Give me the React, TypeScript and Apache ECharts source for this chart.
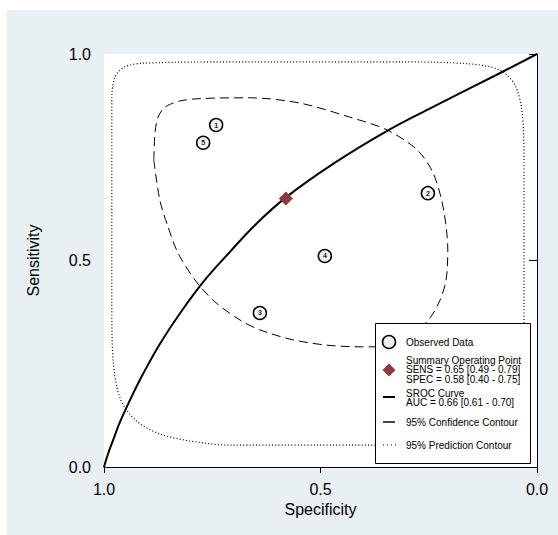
import React, { useEffect, useRef } from "react";
import * as echarts from "echarts";

// Study data (specificity, sensitivity)
const studyIds = ["1", "2", "3", "4", "5"];
const studySpec = [0.741, 0.252, 0.64, 0.49, 0.771];
const studySens = [0.828, 0.663, 0.373, 0.511, 0.785];

// Summary operating point
const summarySpec = 0.58;
const summarySens = 0.65;

// SROC curve
const srocSpec = [1.0, 0.991, 0.979, 0.963, 0.94, 0.91, 0.871, 0.824, 0.767, 0.709, 0.651, 0.582, 0.471, 0.346, 0.24, 0.085, 0.0];
const srocSens = [0.0, 0.031, 0.065, 0.109, 0.162, 0.225, 0.298, 0.373, 0.453, 0.521, 0.586, 0.651, 0.734, 0.814, 0.872, 0.954, 1.0];

// 95% confidence contour
const confSpec = [0.885, 0.882, 0.874, 0.858, 0.826, 0.778, 0.663, 0.547, 0.432, 0.346, 0.277, 0.24, 0.217, 0.206, 0.21, 0.224, 0.247, 0.282, 0.328, 0.374, 0.409, 0.485, 0.564, 0.64, 0.686, 0.744, 0.79, 0.829, 0.852, 0.871, 0.885];
const confSens = [0.743, 0.812, 0.85, 0.872, 0.886, 0.892, 0.894, 0.881, 0.847, 0.816, 0.768, 0.712, 0.63, 0.525, 0.453, 0.404, 0.361, 0.324, 0.3, 0.291, 0.291, 0.295, 0.308, 0.332, 0.356, 0.4, 0.453, 0.518, 0.581, 0.646, 0.743];

// 95% prediction contour
const predSpec = [0.982, 0.975, 0.952, 0.905, 0.663, 0.316, 0.155, 0.085, 0.051, 0.035, 0.03, 0.03, 0.032, 0.044, 0.074, 0.132, 0.432, 0.709, 0.801, 0.871, 0.928, 0.963, 0.979, 0.982, 0.982, 0.982];
const predSens = [0.901, 0.944, 0.969, 0.978, 0.981, 0.981, 0.976, 0.961, 0.925, 0.864, 0.743, 0.404, 0.162, 0.09, 0.061, 0.053, 0.053, 0.053, 0.063, 0.08, 0.114, 0.167, 0.259, 0.404, 0.768, 0.901];

const axisTicks = [0, 0.5, 1];

const legendLines = {
  observed: "Observed Data",
  summary: ["Summary Operating Point", "SENS = 0.65 [0.49 - 0.79]", "SPEC = 0.58 [0.40 - 0.75]"],
  sroc: ["SROC Curve", "AUC = 0.66 [0.61 - 0.70]"],
  conf: "95% Confidence Contour",
  pred: "95% Prediction Contour",
};

const FONT = '"Liberation Sans", Arial, sans-serif';
const zip = (a: number[], b: number[]) => a.map((v, i) => [v, b[i]]);

export default function App() {
  const ref = useRef<HTMLDivElement>(null);
  useEffect(() => {
    if (!ref.current) return;
    const chart = echarts.init(ref.current, undefined, { renderer: "svg" });
    const lf = `10px ${FONT}`;
    const txt = (text: string, x: number, y: number) => ({
      type: "text",
      z: 101,
      style: { text, x, y, font: lf, fill: "#000", verticalAlign: "middle" },
    });
    chart.setOption({
      animation: false,
      backgroundColor: "#ffffff",
      textStyle: { fontFamily: FONT },
      grid: {
        left: 104,
        top: 54,
        right: 21,
        bottom: 68,
        show: true,
        backgroundColor: "#ffffff",
        borderWidth: 0,
      },
      xAxis: {
        type: "value",
        min: 0,
        max: 1,
        interval: 0.5,
        inverse: true,
        name: "Specificity",
        nameLocation: "middle",
        nameGap: 32,
        nameTextStyle: { fontSize: 16, color: "#000", fontFamily: FONT },
        axisLine: { show: true, lineStyle: { color: "#000", width: 1 } },
        axisTick: { show: true, length: 6, lineStyle: { color: "#000" }, customValues: axisTicks },
        axisLabel: {
          fontSize: 16,
          color: "#000",
          margin: 14,
          fontFamily: FONT,
          formatter: (v: number) => v.toFixed(1),
        },
        splitLine: { show: false },
      },
      yAxis: {
        type: "value",
        min: 0,
        max: 1,
        interval: 0.5,
        name: "Sensitivity",
        nameLocation: "middle",
        nameGap: 63,
        nameTextStyle: { fontSize: 16, color: "#000", fontFamily: FONT },
        axisLine: { show: true, lineStyle: { color: "#000", width: 1 } },
        axisTick: { show: true, length: 8, lineStyle: { color: "#000" } },
        axisLabel: {
          fontSize: 16,
          color: "#000",
          margin: 13,
          fontFamily: FONT,
          formatter: (v: number) => v.toFixed(1),
        },
        splitLine: { show: false },
      },
      graphic: [
        {
          type: "rect",
          z: -10,
          shape: { x: 7, y: 10, width: 551, height: 525 },
          style: { fill: "#e8f0f3" },
        },
        {
          type: "rect",
          z: 100,
          shape: { x: 375.5, y: 323.5, width: 155, height: 140 },
          style: { fill: "#ffffff", stroke: "#000", lineWidth: 1 },
        },
        {
          type: "circle",
          z: 101,
          shape: { cx: 389, cy: 342, r: 6.5 },
          style: { fill: "#eeeeee", stroke: "#000", lineWidth: 1.5 },
        },
        txt(legendLines.observed, 406, 342),
        {
          type: "polygon",
          z: 101,
          shape: { points: [[389, 363.5], [395.5, 370], [389, 376.5], [382.5, 370]] },
          style: { fill: "#8c3a3c" },
        },
        txt(legendLines.summary[0], 406, 360),
        txt(legendLines.summary[1], 406, 369.5),
        txt(legendLines.summary[2], 406, 379),
        {
          type: "line",
          z: 101,
          shape: { x1: 383, y1: 397, x2: 395, y2: 397 },
          style: { stroke: "#000", lineWidth: 2 },
        },
        txt(legendLines.sroc[0], 406, 393),
        txt(legendLines.sroc[1], 406, 402.5),
        {
          type: "line",
          z: 101,
          shape: { x1: 383, y1: 422, x2: 395, y2: 422 },
          style: { stroke: "#444", lineWidth: 2 },
        },
        txt(legendLines.conf, 406, 422),
        {
          type: "line",
          z: 101,
          shape: { x1: 383, y1: 445, x2: 396, y2: 445 },
          style: { stroke: "#000", lineWidth: 1, lineDash: [1, 3] },
        },
        txt(legendLines.pred, 406, 445),
      ],
      series: [
        {
          type: "line",
          name: "95% Prediction Contour",
          data: zip(predSpec, predSens),
          smooth: 0.3,
          showSymbol: false,
          symbol: "none",
          lineStyle: { color: "#000", width: 1.2, type: [1, 2.2] },
          z: 2,
        },
        {
          type: "line",
          name: "95% Confidence Contour",
          data: zip(confSpec, confSens),
          smooth: 0.3,
          showSymbol: false,
          symbol: "none",
          lineStyle: { color: "#000", width: 1, type: [9, 5] },
          z: 3,
        },
        {
          type: "line",
          name: "SROC Curve",
          data: zip(srocSpec, srocSens),
          smooth: 0.4,
          showSymbol: false,
          symbol: "none",
          lineStyle: { color: "#000", width: 2 },
          z: 4,
        },
        {
          type: "scatter",
          name: "Observed Data",
          data: studySpec.map((s, i) => ({ value: [s, studySens[i]], name: studyIds[i] })),
          symbol: "circle",
          symbolSize: 13,
          itemStyle: { color: "#f4f4f4", borderColor: "#000", borderWidth: 1.5, opacity: 1 },
          label: {
            show: true,
            position: "inside",
            formatter: (p: any) => p.name,
            fontSize: 7,
            fontWeight: "bold",
            color: "#222",
            fontFamily: FONT,
          },
          z: 5,
        },
        {
          type: "scatter",
          name: "Summary Operating Point",
          data: [[summarySpec, summarySens]],
          symbol: "diamond",
          symbolSize: [14, 14],
          itemStyle: { color: "#8c3a3c", opacity: 1 },
          z: 6,
        },
      ],
    });
    return () => chart.dispose();
  }, []);
  return (
    <div
      ref={ref}
      style={{ position: "fixed", left: 0, top: 0, width: 558, height: 535 }}
    />
  );
}
